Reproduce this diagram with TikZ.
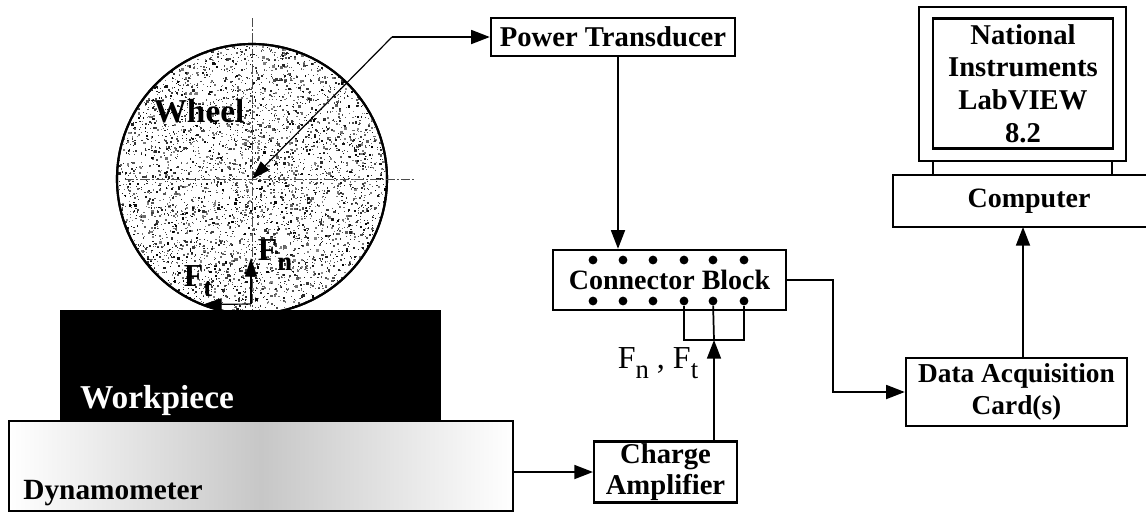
\documentclass[tikz,border=0pt]{standalone}
\usepackage{fontspec}
\setmainfont{Liberation Serif}
\usetikzlibrary{arrows.meta}
\newcommand{\lbl}{\fontsize{21.5}{24.5}\selectfont\bfseries}
\newcommand{\biglbl}[1]{\fontsize{#1}{#1}\selectfont\bfseries}
\newcommand{\lowsub}[1]{\raisebox{-7pt}{\fontsize{20}{20}\selectfont #1}}
\tikzset{
  x=0.75pt,y=-0.75pt,
  box/.style={draw,line width=1.8pt,fill=white,inner sep=0pt,align=center,font=\lbl},
  conn/.style={line width=1.3pt},
  arr/.style={line width=1.3pt,-{Triangle[length=14pt,width=10.5pt]}},
  thinarr/.style={line width=0.9pt,-{Triangle[length=14pt,width=9pt]}},
  axisline/.style={line width=0.5pt,dash pattern=on 7pt off 1.5pt on 1.5pt off 1.5pt,black!70},
  pin/.style={circle,fill=black,inner sep=0pt,minimum size=6.6pt},
  plain/.style={inner sep=0pt,align=center},
}
\begin{document}
\begin{tikzpicture}
\useasboundingbox (0,0) rectangle (1146,512);
\clip (0,0) rectangle (1146,512);
% wheel
\node[circle,draw,line width=1.6pt,fill=white,minimum size=202.5pt,inner sep=0pt] (wheel) at (252,179) {};
\begin{scope}
  \clip (252,179) circle [radius=135];
  \pgfmathsetseed{11}
  \foreach \i in {1,...,5200}{
    \pgfmathsetmacro{\dx}{117+270*rnd}
    \pgfmathsetmacro{\dy}{44+270*rnd}
    \pgfmathsetmacro{\ds}{0.9+2.2*rnd*rnd}
    \pgfmathsetmacro{\dg}{45+55*rnd}
    \fill[black!\dg] (\dx,\dy) rectangle ++(\ds,\ds);
  }
\end{scope}
\draw[line width=1.6pt] (wheel) circle [radius=135];
\coordinate (vtop) at (252,18); \coordinate (vbot) at (252,310);
\coordinate (hl) at (125,179); \coordinate (hr) at (416,179);
\draw[axisline] (vtop) -- (vbot);
\draw[axisline] (hl) -- (hr);
% workpiece and dynamometer
\node[fill=black,minimum width=285.75pt,minimum height=84pt,inner sep=0pt] (work) at (250.5,366) {};
\node[draw,line width=1.3pt,left color=white,right color=white,middle color=black!22,minimum width=378pt,minimum height=67pt,inner sep=0pt] (dyn) at (261,466) {};
\node[plain,text=white,font=\biglbl{25}] (worklabel) at (157,400) {Workpiece};
\node[plain,font=\biglbl{22}] (dynlabel) at (113,493) {Dynamometer};
\node[plain,font=\biglbl{25}] (wheellabel) at (199,111) {Wheel};
% forces
\coordinate (fc) at (251,304);
\coordinate (fn) at (251,258);
\coordinate (ft) at (203,304.5);
\draw[thinarr] (fc) -- (fn);
\draw[thinarr] (fc) -- (ft);
\node[plain,font=\biglbl{24}] (fnlabel) at (275,255) {F\lowsub{n}};
\node[plain,font=\biglbl{24}] (ftlabel) at (198,281) {F\lowsub{t}};
% boxes
\node[box,minimum width=183pt,minimum height=28.5pt] (pt) at (613,37) {Power Transducer};
\node[box,minimum width=174.75pt,minimum height=45pt,font=\biglbl{21}] (cb) at (669.5,280) {Connector Block};
\node[box,minimum width=107pt,minimum height=46pt,font=\fontsize{21.5}{23.5}\selectfont\bfseries] (ca) at (665.5,472) {Charge\\Amplifier};
\node[box,minimum width=165.75pt,minimum height=51pt,font=\fontsize{20.5}{24.5}\selectfont\bfseries] (daq) at (1016.5,392) {Data Acquisition\\Card(s)};
% computer
\node[box,minimum width=155.25pt,minimum height=115.5pt] (mon) at (1022.5,84) {};
\node[box,minimum width=135pt,minimum height=97.5pt] (scr) at (1023,83.5) {\rule{0pt}{2pt}National\\Instruments\\LabVIEW\\8.2};
\node[box,minimum width=204pt,minimum height=39pt,font=\biglbl{21}] (comp) at (1029,201) {Computer};
\coordinate (st1a) at (933,161); \coordinate (st1b) at (933,175);
\coordinate (st2a) at (1112,161); \coordinate (st2b) at (1112,175);
\draw[line width=1.6pt] (st1a) -- (st1b);
\draw[line width=1.6pt] (st2a) -- (st2b);
% pins
\foreach \n/\x in {1/593,2/623,3/653,4/684,5/713,6/744}{
  \node[pin] (t\n) at (\x,260) {};
  \node[pin] (b\n) at (\x,301) {};
}
% connectors
\coordinate (elbow) at (392,37);
\draw[arr] (elbow) -- (pt.west);
\draw[thinarr] (elbow) -- (wheel.center);
\coordinate (ptout) at (618,56);
\draw[arr] (ptout) -- (ptout |- cb.north);
\coordinate (brk) at (714,340);
\coordinate (br4) at (684,340);
\coordinate (br6) at (744,340);
\draw[conn] (b4) -- (br4) -- (br6) -- (b6);
\draw[conn] (b5) -- (brk);
\draw[arr] (brk |- ca.north) -- (brk);
\draw[arr] (dyn.east |- ca.west) -- (ca.west);
\coordinate (e1) at (833,280);
\coordinate (e2) at (833,392);
\draw[arr] (cb.east) -- (e1) -- (e2) -- (daq.west);
\coordinate (daqout) at (1023,358);
\coordinate (compin) at (1023,227);
\draw[arr] (daqout) -- (compin);
% force label
\node[inner sep=0pt,font=\fontsize{24}{28}\selectfont] (fflabel) at (658,363) {F\lowsub{n} , F\lowsub{t}};
\end{tikzpicture}
\end{document}
